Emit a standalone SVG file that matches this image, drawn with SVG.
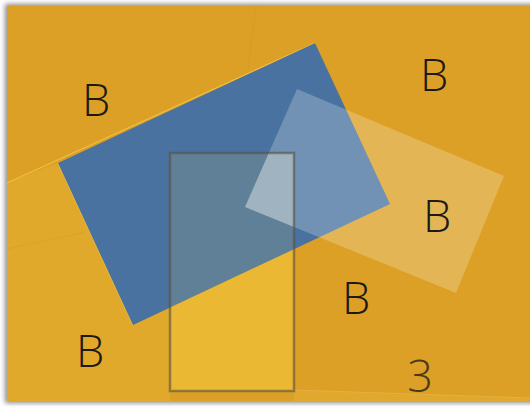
<svg xmlns="http://www.w3.org/2000/svg" width="530" height="406" viewBox="0 0 530 406">
<defs>
<filter id="sh" x="-5%" y="-5%" width="110%" height="110%"><feGaussianBlur stdDeviation="2.5"/></filter>
<clipPath id="rc"><rect x="170" y="153" width="124" height="238"/></clipPath>
<style>
.lbl{font-family:"Open Sans","Liberation Sans",sans-serif;font-weight:300;font-size:45px;fill:#1c1a16;text-anchor:middle}
.faint{fill:none;stroke:#c99628;stroke-width:1;opacity:.35}
.hl{fill:none;stroke:#efc040;stroke-width:1.2}
</style>
</defs>
<rect width="530" height="406" fill="#ffffff"/>
<rect x="5" y="4" width="530" height="399" fill="#8a8a8a" filter="url(#sh)"/>
<g id="background">
<rect x="7" y="6" width="523" height="395" fill="#dca026"/>
<polygon points="7,183 58,163 133,325 170,308 170,401 7,401" fill="#e1a92b"/>
<polygon points="294,390 530,398 530,401 294,401" fill="#e0a82d"/>
<line class="faint" x1="256" y1="6" x2="248" y2="68"/>
<line class="faint" x1="7" y1="249" x2="85" y2="232"/>
<line x1="294" y1="390" x2="530" y2="398" stroke="#e4b040" stroke-width="1"/>
</g>
<g id="blue">
<polyline class="hl" points="7,183 315,43"/>
<line class="hl" x1="58" y1="163" x2="133" y2="325"/>
<polygon points="58,163 315,43 390,204 133,325" fill="#4a72a0"/>
</g>
<g id="white">
<polygon points="297,89 504,176 456,293 245,207" fill="#ffffff" fill-opacity="0.22"/>
</g>
<g id="yellow">
<g clip-path="url(#rc)">
<rect x="170" y="153" width="124" height="238" fill="#ebb834"/>
<polygon points="58,163 315,43 390,204 133,325" fill="#5f8096"/>
<polygon points="297,89 504,176 456,293 245,207" fill="#ffffff" fill-opacity="0.4"/>
</g>
<rect x="170" y="153" width="124" height="238" fill="none" stroke="#5a5040" stroke-opacity="0.6" stroke-width="2.5"/>
</g>
<g id="labels">
<text class="lbl" x="96" y="116">B</text>
<text class="lbl" x="434" y="91">B</text>
<text class="lbl" x="437" y="232">B</text>
<text class="lbl" x="356" y="314">B</text>
<text class="lbl" x="90" y="367">B</text>
<text class="lbl" x="420" y="392" style="fill:#4a3a1c">3</text>
</g>
</svg>
